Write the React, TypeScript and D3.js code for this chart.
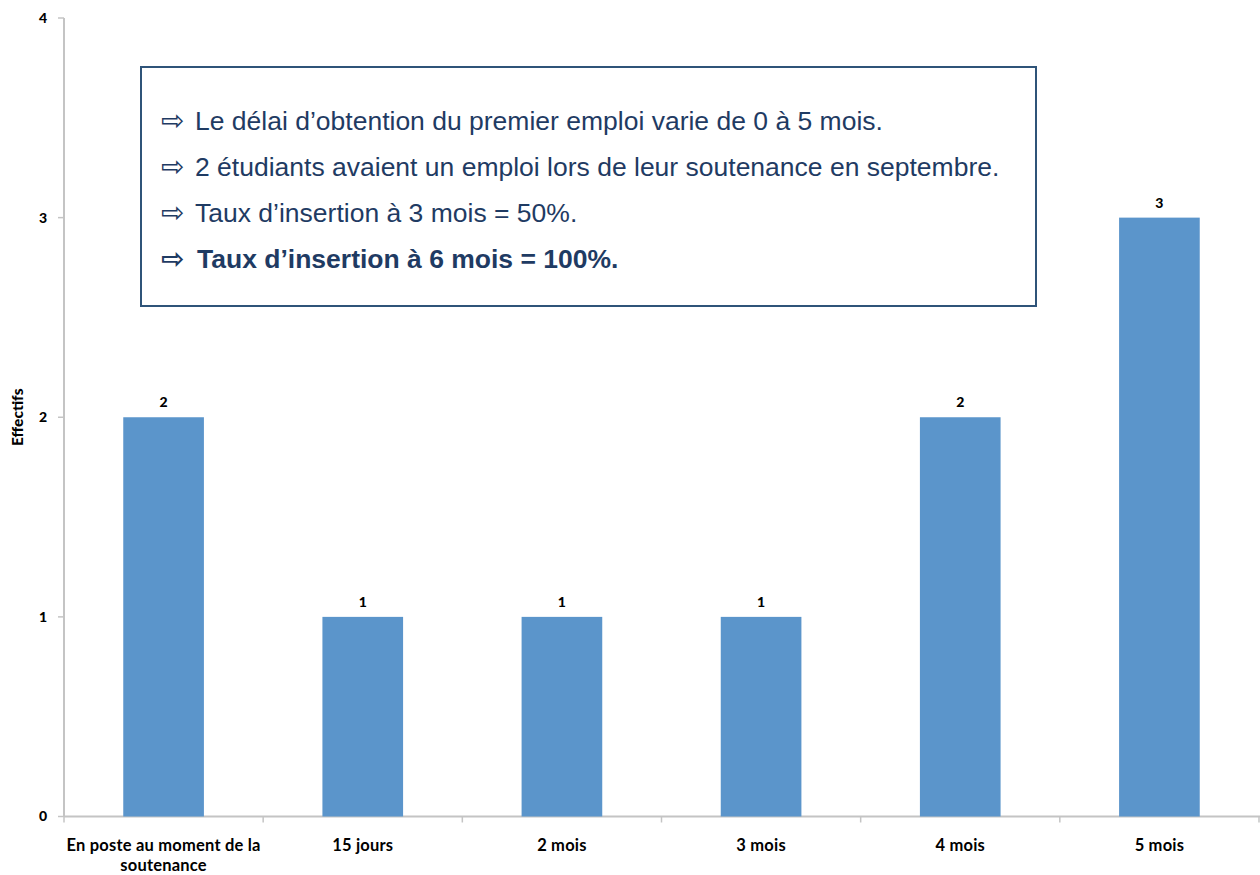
import React from 'react';
import * as d3 from 'd3';

// chart values
const categories: string[][] = [
  ['En poste au moment de la', 'soutenance'],
  ['15 jours'],
  ['2 mois'],
  ['3 mois'],
  ['4 mois'],
  ['5 mois'],
];
const effectifs: number[] = [2, 1, 1, 1, 2, 3];
const yTicks: number[] = [0, 1, 2, 3, 4];
const notes: string[] = [
  'Le délai d’obtention du premier emploi varie de 0 à 5 mois.',
  '2 étudiants avaient un emploi lors de leur soutenance en septembre.',
  'Taux d’insertion à 3 mois = 50%.',
  'Taux d’insertion à 6 mois = 100%.',
];

const W = 1260;
const H = 875;
const margin = { top: 18, right: 0, bottom: 58, left: 64 };
const labelFont = 'Lato, "Open Sans", sans-serif';
const navy = '#1f3b63';

export default function App() {
  const x = d3
    .scaleBand<number>()
    .domain(d3.range(categories.length))
    .range([margin.left, W - 1])
    .paddingInner(0.595)
    .paddingOuter(0.2975);
  const step = (W - 1 - margin.left) / categories.length;
  const y = d3.scaleLinear().domain([0, 4]).range([H - margin.bottom - 0.5, margin.top]);
  const y0 = y(0);

  return (
    <svg
      width={W}
      height={H}
      style={{ position: 'absolute', left: 0, top: 0, background: '#fff' }}
    >
      {/* axes */}
      <line x1={margin.left} x2={margin.left} y1={y(4)} y2={y0} stroke="#c4c4c4" strokeWidth={2} />
      <line x1={margin.left} x2={W} y1={y0} y2={y0} stroke="#c4c4c4" strokeWidth={2} />
      {yTicks.map((t) => (
        <g key={t}>
          <line x1={margin.left - 6} x2={margin.left} y1={y(t)} y2={y(t)} stroke="#c4c4c4" strokeWidth={1.5} />
          <text
            x={47}
            y={y(t)}
            dy="0.35em"
            textAnchor="end"
            fontFamily={labelFont}
            fontWeight={900}
            fontSize={14}
          >
            {t}
          </text>
        </g>
      ))}
      {d3.range(categories.length + 1).map((i) => (
        <line
          key={i}
          x1={margin.left + i * step}
          x2={margin.left + i * step}
          y1={y0}
          y2={y0 + 6}
          stroke="#c4c4c4"
          strokeWidth={1.5}
        />
      ))}
      <text
        transform={`translate(23, ${(y(4) + y0) / 2}) rotate(-90)`}
        textAnchor="middle"
        fontFamily={labelFont}
        fontWeight={900}
        fontSize={15.5}
      >
        Effectifs
      </text>

      {/* bars */}
      {effectifs.map((v, i) => (
        <g key={i}>
          <rect
            x={x(i)}
            y={y(v)}
            width={x.bandwidth()}
            height={y0 - y(v)}
            fill="#5b95cb"
          />
          <text
            x={(x(i) as number) + x.bandwidth() / 2}
            y={y(v) - 10}
            textAnchor="middle"
            fontFamily={labelFont}
            fontWeight={900}
            fontSize={14}
          >
            {v}
          </text>
        </g>
      ))}

      {/* category labels */}
      {categories.map((lines, i) =>
        lines.map((l, j) => (
          <text
            key={`${i}-${j}`}
            x={(x(i) as number) + x.bandwidth() / 2}
            y={y0 + 34.5 + j * 20}
            textAnchor="middle"
            fontFamily={labelFont}
            fontWeight={700}
            fontSize={16.5}
            letterSpacing={0.2}
          >
            {l}
          </text>
        ))
      )}

      {/* note box */}
      <rect x={141} y={67} width={895} height={239} fill="#fff" stroke="#2f5479" strokeWidth={2} />
      {notes.map((n, i) => (
        <g key={i} fill={navy}>
          <text
            x={161}
            y={130 + i * 46}
            fontFamily='"DejaVu Sans", sans-serif'
            fontSize={28}
            fontWeight={i === 3 ? 700 : 400}
          >
            ⇨
          </text>
          <text
            x={i === 3 ? 197 : 195}
            y={130 + i * 46}
            fontFamily='"Liberation Sans", Arial, sans-serif'
            fontSize={26.5}
            fontWeight={i === 3 ? 700 : 400}
          >
            {n}
          </text>
        </g>
      ))}
    </svg>
  );
}
